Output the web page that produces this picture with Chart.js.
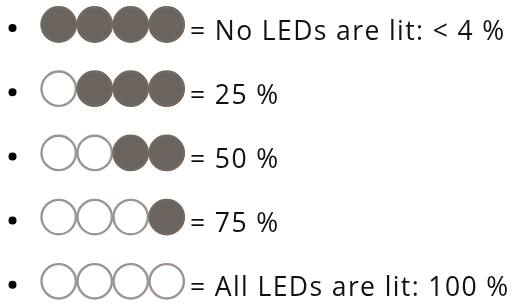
<!DOCTYPE html>
<html>
<head>
<meta charset="utf-8">
<script src="https://cdn.jsdelivr.net/npm/chart.js@4/dist/chart.umd.min.js"></script>
<style>
  html, body { margin: 0; padding: 0; background: #ffffff; }
  #wrap { width: 520px; height: 304px; position: relative; }
</style>
</head>
<body>
<div id="wrap"><canvas id="c" width="520" height="304"></canvas></div>
<script>
// ---- data ----
const rowLabels = [
  "= No LEDs are lit: < 4 %",
  "= 25 %",
  "= 50 %",
  "= 75 %",
  "= All LEDs are lit: 100 %"
];
const litLeds = [0, 1, 2, 3, 4];   // number of hollow (lit) LEDs per row, from the left
const ledSlots = [0, 1, 2, 3];     // four LEDs in each indicator

// ---- styles ----
const unlitFill = "#6b635e";
const unlitBorder = "#716964";
const litFill = "#ffffff";
const litBorder = "#9e9590";

const points = [];
const bg = [];
const bd = [];
litLeds.forEach((lit, row) => {
  ledSlots.forEach(slot => {
    points.push({ x: slot, y: row });
    const isLit = slot < lit;
    bg.push(isLit ? litFill : unlitFill);
    bd.push(isLit ? litBorder : unlitBorder);
  });
});

const textPlugin = {
  id: "rowText",
  afterDatasetsDraw(chart) {
    const ctx = chart.ctx;
    const ys = chart.scales.y;
    ctx.save();
    rowLabels.forEach((label, row) => {
      const cy = ys.getPixelForValue(row);
      // bullet
      ctx.fillStyle = "#000000";
      ctx.beginPath();
      ctx.arc(12.5, cy + 3.5, 4, 0, Math.PI * 2);
      ctx.fill();
      // label
      ctx.font = "26.5px 'Open Sans', sans-serif";
      if ("letterSpacing" in ctx) ctx.letterSpacing = "1.4px";
      ctx.textBaseline = "alphabetic";
      ctx.textAlign = "left";
      ctx.fillStyle = "#111111";
      ctx.fillText(label, 190, cy + 15);
    });
    ctx.restore();
  }
};

const xUnit = 36, yUnit = 64.2;
const xMin = -58.7 / xUnit, yMin = -24.5 / yUnit;

new Chart(document.getElementById("c"), {
  type: "scatter",
  data: {
    datasets: [{
      data: points,
      pointRadius: 17.2,
      pointBorderWidth: 2.4,
      pointBackgroundColor: bg,
      pointBorderColor: bd,
      pointHoverRadius: 17.2
    }]
  },
  options: {
    responsive: false,
    animation: false,
    events: [],
    layout: { padding: 0, autoPadding: false },
    plugins: { legend: { display: false }, tooltip: { enabled: false } },
    scales: {
      x: { type: "linear", display: false, min: xMin, max: xMin + 520 / xUnit },
      y: { type: "linear", display: false, reverse: true, min: yMin, max: yMin + 304 / yUnit }
    }
  },
  plugins: [textPlugin]
});
</script>
</body>
</html>
